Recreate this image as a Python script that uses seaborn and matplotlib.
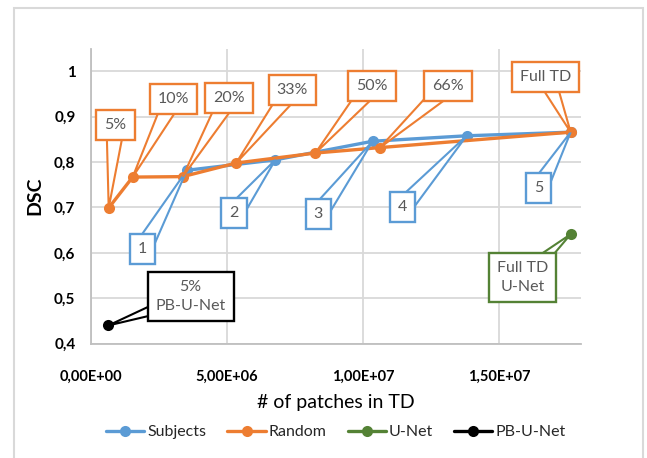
import matplotlib
matplotlib.use('Agg')
import matplotlib.pyplot as plt
import seaborn as sns
import pandas as pd
import numpy as np
from matplotlib.lines import Line2D
from matplotlib.patches import Rectangle, Polygon

# ---- data ----
subjects_x = [3.53e6, 6.78e6, 10.35e6, 13.80e6, 17.62e6]
subjects_y = [0.782, 0.805, 0.846, 0.858, 0.866]
random_x = [0.66e6, 1.54e6, 3.38e6, 5.34e6, 8.25e6, 10.62e6, 17.62e6]
random_y = [0.699, 0.767, 0.768, 0.798, 0.820, 0.832, 0.866]
unet_x = [17.62e6]
unet_y = [0.641]
pbunet_x = [0.65e6]
pbunet_y = [0.440]

subject_labels = ['1', '2', '3', '4', '5']
random_labels = ['5%', '10%', '20%', '33%', '50%', '66%', 'Full TD']
unet_labels = ['Full TD\nU-Net']
pbunet_labels = ['5%\nPB-U-Net']

series_names = ['Subjects', 'Random', 'U-Net', 'PB-U-Net']
series_colors = ['#5B9BD5', '#ED7D31', '#548235', '#000000']

x_ticks = [0, 5e6, 1e7, 1.5e7]
x_tick_labels = ['0,00E+00', '5,00E+06', '1,00E+07', '1,50E+07']
y_ticks = [0.4, 0.5, 0.6, 0.7, 0.8, 0.9, 1.0]
y_tick_labels = ['0,4', '0,5', '0,6', '0,7', '0,8', '0,9', '1']

# ---- layout (callout box centres, data coords) ----
subject_callouts = [(1.90e6, 0.608), (5.26e6, 0.687), (8.35e6, 0.685), (11.45e6, 0.700), (16.44e6, 0.742)]
random_callouts = [(0.91e6, 0.881), (3.04e6, 0.940), (5.07e6, 0.941), (7.40e6, 0.959),
                   (10.33e6, 0.967), (13.12e6, 0.967), (16.70e6, 0.988)]
unet_callouts = [(15.85e6, 0.546)]
pbunet_callouts = [(3.67e6, 0.503)]

sns.set_theme(style='white')
plt.rcParams['font.family'] = ['Lato', 'DejaVu Sans']

fig = plt.figure(figsize=(6.47, 4.58), dpi=100)
ax = fig.add_axes([0.1402, 0.2498, 0.898 - 0.1402, 0.8937 - 0.2498])

frames = []
for name, xs, ys in zip(series_names, [subjects_x, random_x, unet_x, pbunet_x],
                        [subjects_y, random_y, unet_y, pbunet_y]):
    frames.append(pd.DataFrame({'x': xs, 'y': ys, 'series': name}))
df = pd.concat(frames, ignore_index=True)
palette = dict(zip(series_names, series_colors))

sns.lineplot(data=df, x='x', y='y', hue='series', hue_order=series_names, palette=palette,
             marker='o', markersize=8, markeredgewidth=0, linewidth=2.4, sort=False,
             legend=False, ax=ax, zorder=5)

ax.set_xlim(0, 1.8e7)
ax.set_ylim(0.4, 1.05)
ax.set_xticks(x_ticks)
ax.set_xticklabels(x_tick_labels, fontweight='bold', fontsize=10.5, color='#000000')
ax.set_yticks(y_ticks)
ax.set_yticklabels(y_tick_labels, fontweight='bold', fontsize=11, color='#000000')
ax.tick_params(axis='x', length=0, pad=19)
ax.tick_params(axis='y', length=0, pad=11)
ax.grid(True, color='#d9d9d9', linewidth=1.3)
ax.set_axisbelow(True)
for s in ['top', 'right']:
    ax.spines[s].set_visible(False)
for s in ['left', 'bottom']:
    ax.spines[s].set_color('#bfbfbf')
    ax.spines[s].set_linewidth(1.3)

ax.set_xlabel('# of patches in TD', fontsize=14, color='#000000', labelpad=7)
ax.set_ylabel('DSC', fontsize=14, fontweight='bold', color='#000000', labelpad=8)


def callouts(xs, ys, labels, boxes, color):
    for x, y, lab, (bx, by) in zip(xs, ys, labels, boxes):
        pb = ax.transData.transform((bx, by))
        pp = ax.transData.transform((x, y))
        d = pp - pb
        d = d / np.hypot(*d)
        n = np.array([-d[1], d[0]])
        w = 9.0
        tri = np.array([pb + n * w, pp, pb - n * w])
        tri = ax.transData.inverted().transform(tri)
        ax.add_patch(Polygon(tri, closed=True, fc='white', ec=color, lw=1.5, zorder=7,
                             joinstyle='miter'))
        ax.text(bx, by, lab, ha='center', va='center', fontsize=11.5, color='#595959',
                linespacing=1.45, zorder=8,
                bbox=dict(boxstyle='square,pad=0.5', fc='white', ec=color, lw=1.7))


callouts(subjects_x, subjects_y, subject_labels, subject_callouts, series_colors[0])
callouts(random_x, random_y, random_labels, random_callouts, series_colors[1])
callouts(unet_x, unet_y, unet_labels, unet_callouts, series_colors[2])
callouts(pbunet_x, pbunet_y, pbunet_labels, pbunet_callouts, series_colors[3])

handles = [Line2D([0], [0], color=c, lw=2.4, marker='o', markersize=8, markeredgewidth=0)
           for c in series_colors]
fig.legend(handles, series_names, loc='center', bbox_to_anchor=(336 / 647, 1 - 432 / 458),
           ncol=4, frameon=False, fontsize=11.5, handlelength=2.4, handletextpad=0.2,
           columnspacing=1.3)

fig.patches.append(Rectangle((14 / 647, -0.01), (643 - 14) / 647, 1 - 8 / 458 + 0.01,
                             transform=fig.transFigure, fill=False, ec='#d9d9d9', lw=1.5))

fig.savefig('out.png', dpi=100)
